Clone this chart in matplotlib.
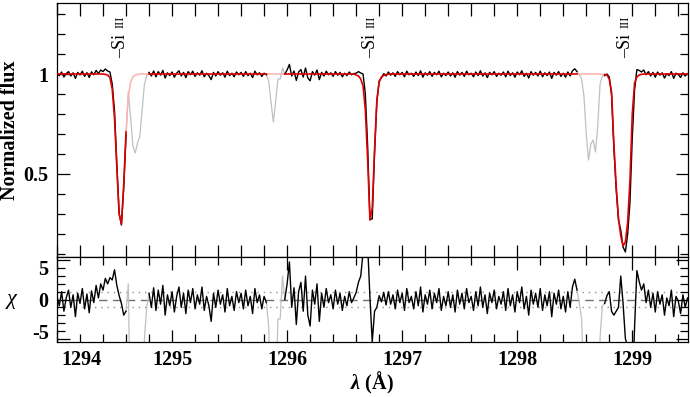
import numpy as np
import matplotlib.pyplot as plt
from matplotlib.ticker import MultipleLocator
from matplotlib.transforms import ScaledTranslation

plt.rcParams['font.family'] = ['Liberation Serif', 'DejaVu Serif']
plt.rcParams['font.weight'] = 'bold'
plt.rcParams['axes.labelweight'] = 'bold'
plt.rcParams['mathtext.fontset'] = 'custom'
plt.rcParams['mathtext.rm'] = 'Liberation Serif:bold'
plt.rcParams['mathtext.it'] = 'Liberation Serif:italic:bold'

# wavelength grid of the spectrum (Angstrom)
lam_start = 1294.0
lam_step = 0.02

# observed normalized flux, one row per 0.2 A
flux = [
    1.004, 0.992, 1.010, 0.985, 1.002, 1.012, 0.990, 1.006, 0.978, 1.008,  # 1294.0
    0.995, 1.014, 0.988, 1.007, 0.983, 1.011, 0.996, 1.018, 1.002, 1.020,  # 1294.2
    1.012, 1.025, 1.015, 1.010, 0.950, 0.815, 0.550, 0.305, 0.245, 0.430,  # 1294.4
    0.695, 0.910, 0.780, 0.640, 0.605, 0.655, 0.690, 0.820, 0.950, 0.990,  # 1294.6
    1.008, 0.990, 1.015, 0.986, 1.012, 0.994, 1.018, 0.980, 1.006, 0.992,  # 1294.8
    1.010, 0.984, 1.004, 1.016, 0.990, 1.008, 0.982, 1.012, 0.996, 1.014,  # 1295.0
    0.988, 1.006, 0.994, 1.016, 0.986, 1.004, 0.992, 0.972, 1.008, 0.990,  # 1295.2
    1.012, 0.994, 1.006, 0.984, 1.014, 0.992, 1.004, 0.986, 1.010, 0.996,  # 1295.4
    1.008, 0.988, 1.012, 0.992, 1.004, 0.982, 1.014, 0.996, 1.006, 0.988,  # 1295.6
    1.004, 0.996, 0.965, 0.860, 0.760, 0.860, 0.975, 0.975, 1.030, 1.000,  # 1295.8
    1.020, 1.048, 0.990, 1.015, 0.968, 1.010, 1.022, 0.985, 1.030, 0.980,  # 1296.0
    0.966, 1.012, 0.994, 1.020, 0.972, 1.008, 0.990, 1.014, 0.996, 1.006,  # 1296.2
    0.988, 1.012, 0.994, 1.008, 0.986, 1.004, 0.992, 1.010, 0.996, 1.002,  # 1296.4
    1.004, 1.012, 1.005, 1.000, 0.900, 0.640, 0.272, 0.276, 0.605, 0.860,  # 1296.6
    0.965, 0.982, 1.002, 0.990, 1.010, 0.994, 1.006, 0.988, 1.012, 0.996,  # 1296.8
    1.008, 0.986, 1.014, 0.996, 1.004, 0.988, 1.010, 0.992, 1.016, 0.984,  # 1297.0
    1.006, 0.994, 1.012, 0.988, 1.008, 0.996, 1.014, 0.986, 1.004, 0.992,  # 1297.2
    1.010, 0.990, 1.006, 0.984, 1.012, 0.994, 1.008, 0.988, 1.014, 0.996,  # 1297.4
    1.004, 0.986, 1.010, 0.992, 1.016, 0.990, 1.006, 0.982, 1.008, 0.996,  # 1297.6
    1.012, 0.988, 1.004, 0.994, 1.010, 0.986, 1.014, 0.992, 1.006, 0.984,  # 1297.8
    1.010, 0.996, 1.016, 0.988, 1.004, 0.980, 1.012, 0.994, 1.008, 0.990,  # 1298.0
    1.014, 0.986, 1.006, 0.992, 1.010, 0.978, 1.008, 0.994, 1.012, 0.988,  # 1298.2
    1.004, 0.984, 1.010, 0.990, 1.016, 1.026, 1.012, 0.995, 0.975, 0.890,  # 1298.4
    0.700, 0.570, 0.650, 0.670, 0.610, 0.740, 0.950, 0.990, 0.992, 1.000,  # 1298.6
    0.985, 0.895, 0.630, 0.425, 0.270, 0.220, 0.135, 0.110, 0.200, 0.360,  # 1298.8
    0.680, 0.920, 1.022, 1.018, 1.010, 1.020, 0.996, 1.012, 0.990, 1.008,  # 1299.0
    0.984, 1.010, 0.994, 1.006, 0.980, 1.002, 0.992, 1.012, 0.978, 1.004,  # 1299.2
    0.998, 0.982, 1.006, 0.990, 1.002,                                     # 1299.4
]

# best-fit model on the same grid
model = [
    1, 1, 1, 1, 1, 1, 1, 1, 1, 1,                                          # 1294.0
    1, 1, 1, 1, 1, 1, 1, 1, 1, 1,                                          # 1294.2
    1, 0.998, 0.995, 0.982, 0.925, 0.777, 0.532, 0.300, 0.250, 0.450,      # 1294.4
    0.710, 0.890, 0.960, 0.985, 0.995, 0.998, 1, 1, 1, 1,                  # 1294.6
    1, 1, 1, 1, 1, 1, 1, 1, 1, 1,                                          # 1294.8
    1, 1, 1, 1, 1, 1, 1, 1, 1, 1,                                          # 1295.0
    1, 1, 1, 1, 1, 1, 1, 1, 1, 1,                                          # 1295.2
    1, 1, 1, 1, 1, 1, 1, 1, 1, 1,                                          # 1295.4
    1, 1, 1, 1, 1, 1, 1, 1, 1, 1,                                          # 1295.6
    1, 1, 1, 1, 1, 1, 1, 1, 1, 1,                                          # 1295.8
    1, 1, 1, 1, 1, 1, 1, 1, 1, 1,                                          # 1296.0
    1, 1, 1, 1, 1, 1, 1, 1, 1, 1,                                          # 1296.2
    1, 1, 1, 1, 1, 1, 1, 1, 1, 1,                                          # 1296.4
    0.995, 0.990, 0.975, 0.940, 0.820, 0.570, 0.270, 0.330, 0.620, 0.870,  # 1296.6
    0.960, 0.985, 0.993, 0.997, 1, 1, 1, 1, 1, 1,                          # 1296.8
    1, 1, 1, 1, 1, 1, 1, 1, 1, 1,                                          # 1297.0
    1, 1, 1, 1, 1, 1, 1, 1, 1, 1,                                          # 1297.2
    1, 1, 1, 1, 1, 1, 1, 1, 1, 1,                                          # 1297.4
    1, 1, 1, 1, 1, 1, 1, 1, 1, 1,                                          # 1297.6
    1, 1, 1, 1, 1, 1, 1, 1, 1, 1,                                          # 1297.8
    1, 1, 1, 1, 1, 1, 1, 1, 1, 1,                                          # 1298.0
    1, 1, 1, 1, 1, 1, 1, 1, 1, 1,                                          # 1298.2
    1, 1, 1, 1, 1, 1, 1, 1, 1, 1,                                          # 1298.4
    1, 1, 1, 1, 1, 1, 0.999, 0.998, 0.997, 0.995,                          # 1298.6
    0.975, 0.910, 0.650, 0.440, 0.280, 0.190, 0.140, 0.160, 0.260, 0.470,  # 1298.8
    0.800, 0.955, 0.985, 0.995, 0.998, 1, 1, 1, 1, 1,                      # 1299.0
    1, 1, 1, 1, 1, 1, 1, 1, 1, 1,                                          # 1299.2
    1, 1, 1, 1, 1,                                                         # 1299.4
]

# wavelength ranges excluded from the fit (drawn in grey / pink)
gaps = [(1294.60, 1294.80), (1295.82, 1295.98), (1298.52, 1298.76)]
sigma = 0.01
si3_lines = [1294.55, 1296.73, 1298.94]

wave = lam_start + lam_step * np.arange(len(flux))
flux = np.array(flux)
model = np.array(model)
chi = (flux - model) / sigma

inside = np.zeros(len(wave), bool)
for lo, hi in gaps:
    inside |= (wave > lo + 1e-6) & (wave < hi - 1e-6)

fig = plt.figure(figsize=(6.9, 3.97), dpi=100)
ax1 = fig.add_axes([57 / 690, 1 - 257 / 397, 630.5 / 690, 254 / 397])
ax2 = fig.add_axes([57 / 690, 1 - 341.7 / 397, 630.5 / 690, 84.4 / 397], sharex=ax1)

grey = '#c0c0c0'
pink = '#ffb0b0'

# top panel
for lo, hi in gaps:
    sel = (wave >= lo - 1e-6) & (wave <= hi + 1e-6)
    ax1.plot(wave[sel], flux[sel], color=grey, lw=0.9, zorder=2)
    ax1.plot(wave[sel], model[sel], color=pink, lw=1.1, zorder=3)
    ax2.plot(wave[sel], chi[sel], color=grey, lw=0.9, zorder=2)
ax1.plot(wave, np.where(inside, np.nan, flux), color='black', lw=1.0, zorder=4)
ax1.plot(wave, np.where(inside, np.nan, model), color='#e00000', lw=1.2, zorder=5)

for lam in si3_lines:
    ax1.text(lam, 1.08, '–Si', rotation=90, ha='center', va='bottom',
             fontsize=13, fontweight='normal')
    ax1.text(lam, 1.228, 'III', rotation=90, ha='center', va='bottom',
             fontsize=9, fontweight='normal')

ax1.set_xlim(1294.0, 1299.48)
ax1.set_ylim(0.085, 1.355)
ax1.set_yticks([0.5, 1.0])
ax1.set_yticklabels(['0.5', '1'])
ax1.yaxis.set_minor_locator(MultipleLocator(0.1))
ax1.set_ylabel('Normalized flux', fontsize=14.5)
ax1.yaxis.set_label_coords(-0.058, 0.5)
ax1.tick_params(labelbottom=False)

# bottom panel
ax2.axhline(0, color='#707070', lw=1.0, ls=(0, (6, 4)), zorder=1)
for v in (-1, 1):
    ax2.axhline(v, color='#909090', lw=1.0, ls=(0, (1, 3.5)), zorder=1)
ax2.plot(wave, np.where(inside, np.nan, chi), color='black', lw=1.0, zorder=4)
ax2.set_ylim(-5.4, 5.4)
ax2.set_yticks([-5, 0, 5])
ax2.set_yticklabels(['-5', '0', '5'])
ax2.yaxis.set_minor_locator(MultipleLocator(1))
ax2.set_xticks([1294, 1295, 1296, 1297, 1298, 1299])
ax2.set_xticklabels(['1294', '1295', '1296', '1297', '1298', '1299'])
ax2.xaxis.set_minor_locator(MultipleLocator(0.2))
ax2.set_ylabel('χ', fontsize=16, fontweight='normal', fontstyle='italic',
               rotation=0, va='center', ha='center')
ax2.yaxis.set_label_coords(-0.072, 0.5)
ax2.set_xlabel(r'$\lambda\ $(Å)', fontsize=14.5, va='top')
ax2.xaxis.set_label_coords(0.5, -0.34)

for ax in (ax1, ax2):
    ax.tick_params(which='both', direction='in', top=True, right=True,
                   labelsize=14.5, width=0.9, pad=6)
    ax.tick_params(which='major', length=9)
    ax.tick_params(which='minor', length=6)
    for s in ax.spines.values():
        s.set_linewidth(0.9)
ax1.tick_params(axis='x', which='minor', length=9)

# keep the edge labels inside the frame, like the original
xt = ax2.xaxis.get_major_ticks()[0].label1
xt.set_horizontalalignment('left')
xt.set_transform(xt.get_transform() + ScaledTranslation(4 / 100, 0, fig.dpi_scale_trans))
yt = ax2.yaxis.get_major_ticks()
yt[0].label1.set_verticalalignment('baseline')
yt[-1].label1.set_verticalalignment('top')

fig.savefig('out.png', dpi=100)
